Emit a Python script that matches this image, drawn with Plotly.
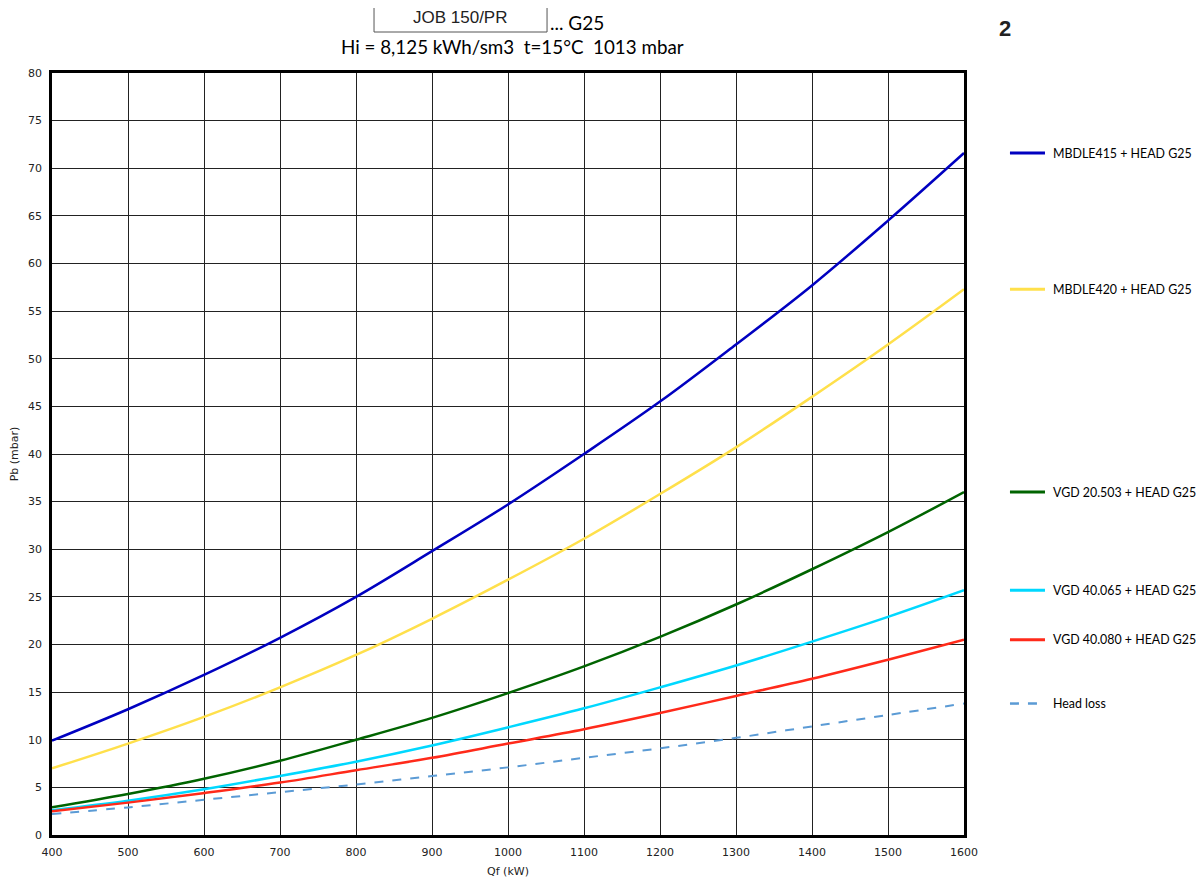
import plotly.graph_objects as go

qf = [400, 500, 600, 700, 800, 900, 1000, 1100, 1200, 1300, 1400, 1500, 1600]
mbdle415 = [9.9, 13.2, 16.8, 20.7, 25.0, 29.8, 34.7, 40.0, 45.5, 51.5, 57.7, 64.5, 71.6]
mbdle420 = [7.0, 9.6, 12.4, 15.5, 18.9, 22.7, 26.8, 31.1, 35.8, 40.7, 46.0, 51.5, 57.3]
vgd20503 = [2.9, 4.3, 5.9, 7.8, 10.0, 12.3, 14.9, 17.7, 20.8, 24.2, 27.9, 31.8, 36.0]
vgd40065 = [2.6, 3.6, 4.8, 6.2, 7.7, 9.4, 11.3, 13.3, 15.5, 17.8, 20.3, 22.9, 25.7]
vgd40080 = [2.5, 3.4, 4.4, 5.5, 6.8, 8.1, 9.6, 11.1, 12.8, 14.6, 16.4, 18.4, 20.5]
head_loss = [2.2, 2.9, 3.7, 4.5, 5.3, 6.2, 7.1, 8.1, 9.1, 10.2, 11.4, 12.6, 13.8]

names = ["MBDLE415 + HEAD G25", "MBDLE420 + HEAD G25", "VGD 20.503 + HEAD G25",
         "VGD 40.065 + HEAD G25", "VGD 40.080 + HEAD G25", "Head loss"]
series = [mbdle415, mbdle420, vgd20503, vgd40065, vgd40080, head_loss]
colors = ["#0000C0", "#FFE04B", "#006400", "#00D8FF", "#FF2A1A", "#5B9BD5"]
dashes = ["solid", "solid", "solid", "solid", "solid", "dash"]
widths = [2.5, 2.5, 2.5, 2.5, 2.5, 2]

fig = go.Figure()
for n, s, c, d, w in zip(names, series, colors, dashes, widths):
    fig.add_trace(go.Scatter(x=qf, y=s, mode="lines", name=n,
                             line=dict(color=c, width=w, dash=d, shape="spline"),
                             showlegend=False))
    # custom legend entry at the series end value
    fig.add_shape(type="line", xref="paper", yref="y", x0=1.0504, x1=1.0888,
                  y0=s[-1], y1=s[-1], line=dict(color=c, width=w + 0.5, dash=d))
    fig.add_annotation(xref="paper", yref="y", x=1.0955, y=s[-1], text=n,
                       showarrow=False, xanchor="left", yanchor="middle",
                       font=dict(family="Lato, Open Sans, sans-serif", size=12.4, color="#000"))

# title box
fig.add_shape(type="rect", xref="paper", yref="paper", x0=0.3531, x1=0.5428,
              y0=1.0538, y1=1.0892, line=dict(color="#555", width=1), fillcolor="white")
fig.add_annotation(xref="paper", yref="paper", x=0.4474, y=1.0722, text="JOB 150/PR",
                   showarrow=False, xanchor="center", yanchor="middle",
                   font=dict(family="Liberation Sans, Arial", size=17, color="#222"))
fig.add_annotation(xref="paper", yref="paper", x=0.5440, y=1.066, text="... G25",
                   showarrow=False, xanchor="left", yanchor="middle",
                   font=dict(family="Lato, Open Sans, sans-serif", size=19, color="#000"))
fig.add_annotation(xref="paper", yref="paper", x=0.5044, y=1.0354,
                   text="Hi = 8,125 kWh/sm3  t=15°C  1013 mbar",
                   showarrow=False, xanchor="center", yanchor="middle",
                   font=dict(family="Lato, Open Sans, sans-serif", size=18.8, color="#000"))
fig.add_annotation(xref="paper", yref="paper", x=1.045, y=1.059, text="<b>2</b>",
                   showarrow=False, xanchor="center", yanchor="middle",
                   font=dict(family="Liberation Sans, Arial", size=22, color="#222"))

fig.update_layout(
    width=1204, height=883,
    margin=dict(l=44, r=248, t=65, b=56, autoexpand=False),
    paper_bgcolor="white", plot_bgcolor="white",
    font=dict(family="DejaVu Sans, sans-serif", size=11, color="#222"),
)
fig.update_xaxes(range=[400, 1600], dtick=100, tick0=400, showgrid=True,
                 gridcolor="#222", gridwidth=1, showline=True, linecolor="black",
                 linewidth=2.5, mirror=True, ticks="", zeroline=False,
                 ticklabelstandoff=5, automargin=False,
                 title=dict(text="Qf (kW)", font=dict(size=11), standoff=10),
                 tickfont=dict(size=11))
fig.update_yaxes(range=[0, 80], dtick=5, showgrid=True, gridcolor="#222", gridwidth=1,
                 showline=True, linecolor="black", linewidth=2.5, mirror=True,
                 ticks="", zeroline=False, ticklabelstandoff=5, automargin=False,
                 title=dict(text="Pb (mbar)", font=dict(size=11), standoff=9),
                 tickfont=dict(size=11))

fig.write_html("out.html")
